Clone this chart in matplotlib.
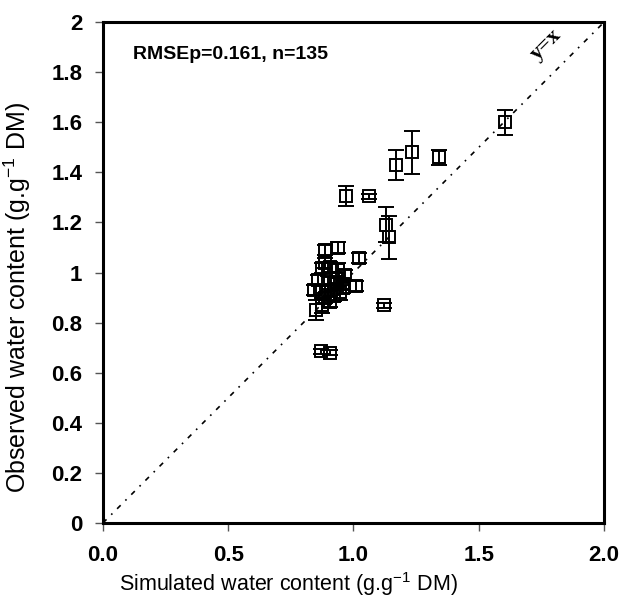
import matplotlib
matplotlib.use('Agg')
import matplotlib.pyplot as plt
import numpy as np

plt.rcParams['font.family'] = ['Liberation Sans', 'DejaVu Sans']
plt.rcParams['mathtext.fontset'] = 'custom'
plt.rcParams['mathtext.rm'] = 'Liberation Sans'

# simulated (x), observed (y) and error on observed
sim = [1.605, 1.235, 1.17, 1.34, 0.97, 1.06, 1.13, 1.14, 1.02, 0.94, 0.885,
       1.12, 0.87, 0.905, 0.85, 1.01,
       0.874, 0.906, 0.938, 0.966, 0.858, 0.898, 0.934, 0.958,
       0.842, 0.874, 0.91, 0.946, 0.886, 0.922, 0.906, 0.874, 0.886, 0.93, 0.96]
obs = [1.60, 1.48, 1.43, 1.46, 1.305, 1.305, 1.19, 1.14, 1.06, 1.10, 1.09,
       0.87, 0.685, 0.68, 0.85, 0.945,
       1.018, 1.022, 1.01, 0.99, 0.97, 0.958, 0.962, 0.954,
       0.93, 0.922, 0.93, 0.922, 0.898, 0.906, 0.882, 0.87, 1.04, 0.98, 0.94]
err = [0.05, 0.085, 0.06, 0.03, 0.04, 0.01, 0.07, 0.085, 0.02, 0.02, 0.02,
       0.01, 0.01, 0.01, 0.04, 0.02,
       0.02, 0.02, 0.03, 0.02, 0.02, 0.03, 0.02, 0.02,
       0.02, 0.03, 0.02, 0.03, 0.02, 0.02, 0.02, 0.03, 0.02, 0.02, 0.02]

xticks = [0.0, 0.5, 1.0, 1.5, 2.0]
yticks = [0, 0.2, 0.4, 0.6, 0.8, 1, 1.2, 1.4, 1.6, 1.8, 2]
ytick_labels = ['0', '0.2', '0.4', '0.6', '0.8', '1', '1.2', '1.4', '1.6', '1.8', '2']

fig = plt.figure(figsize=(6.24, 5.99), dpi=100)
ax = fig.add_axes([0.165, 0.127, 0.803, 0.836])

# 1:1 line
ax.plot([0, 2], [0, 2], color='black', lw=1.2, linestyle=(0, (3, 4, 1, 4)))

ax.errorbar(sim, obs, yerr=err, fmt='s', mfc='none', mec='black', mew=1.4,
            ms=8.5, ecolor='black', elinewidth=1.4, capsize=6, capthick=1.4)

ax.set_xlim(0, 2)
ax.set_ylim(0, 2)
ax.set_xticks(xticks)
ax.set_xticklabels(['%.1f' % v for v in xticks], fontweight='bold', fontsize=16)
ax.set_yticks(yticks)
ax.set_yticklabels(ytick_labels, fontweight='bold', fontsize=16)
ax.tick_params(direction='out', length=6, width=1, color='#555555')
ax.tick_params(axis='x', pad=10)
ax.tick_params(axis='y', pad=9)

for s in ax.spines.values():
    s.set_linewidth(2.2)

ax.set_xlabel('Simulated water content (g.g$^{\\mathregular{-1}}$ DM)', fontsize=15.5)
ax.xaxis.set_label_coords(0.371, -0.095)
ax.set_ylabel('Observed water content (g.g$^{\\mathregular{-1}}$ DM)', fontsize=18)
ax.yaxis.set_label_coords(-0.14, 0.45)

ax.text(0.12, 1.87, 'RMSEp=0.161, n=135', fontsize=14, fontweight='bold',
        va='center', ha='left')
ax.text(1.77, 1.91, 'y=x', fontsize=16, fontweight='bold', rotation=45,
        family='Liberation Serif', ha='center', va='center')

fig.savefig('out.png', dpi=100)
